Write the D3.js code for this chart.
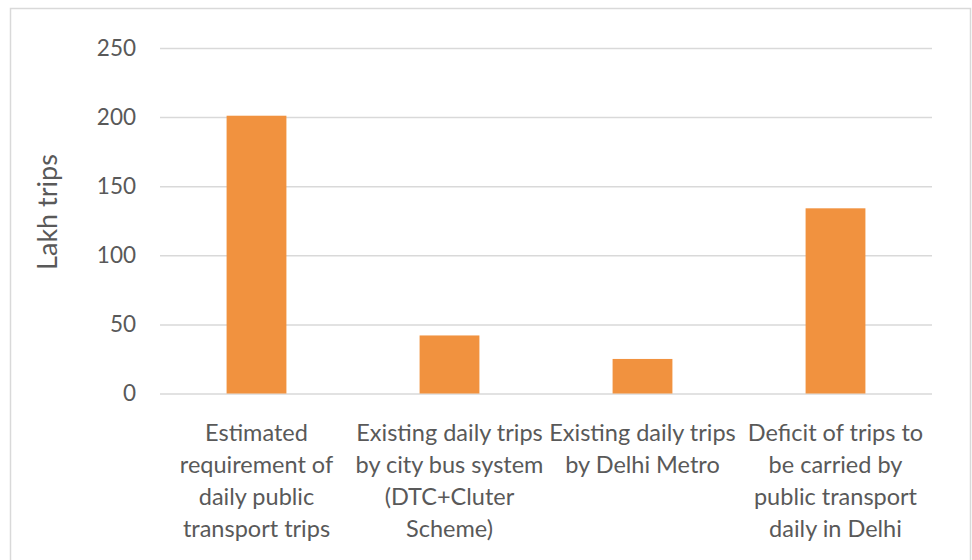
<!DOCTYPE html>
<html>
<head>
<meta charset="utf-8">
<script src="https://cdn.jsdelivr.net/npm/d3@7/dist/d3.min.js"></script>
<style>
  html, body { margin: 0; padding: 0; background: #fff; }
  svg { display: block; }
  text { font-family: Lato, "Open Sans", sans-serif; fill: #595959; }
</style>
</head>
<body>
<svg id="chart" width="972" height="560"></svg>
<script>
// Daily public transport trips in Delhi (lakh trips)
const categories = [
  ["Estimated", "requirement of", "daily public", "transport trips"],
  ["Existing daily trips", "by city bus system", "(DTC+Cluter", "Scheme)"],
  ["Existing daily trips", "by Delhi Metro"],
  ["Deficit of trips to", "be carried by", "public transport", "daily in Delhi"]
];
const values = [201, 42, 25, 134];
const yTicks = [0, 50, 100, 150, 200, 250];
const yTitle = "Lakh trips";

const W = 972, H = 560;
const margin = { left: 160, right: 40, top: 48, bottom: 166.5 };
const svg = d3.select("#chart");

// outer chart frame
svg.append("rect")
  .attr("x", 10.5).attr("y", 8.5)
  .attr("width", 960).attr("height", 560)
  .attr("fill", "#fff")
  .attr("stroke", "#d9d9d9").attr("stroke-width", 1.5);

const x = d3.scaleBand()
  .domain(d3.range(categories.length))
  .range([margin.left, W - margin.right])
  .paddingInner(0.69).paddingOuter(0.345);

const y = d3.scaleLinear()
  .domain([0, 250])
  .range([H - margin.bottom, margin.top]);

// horizontal gridlines
const yAxis = d3.axisLeft(y).tickValues(yTicks)
  .tickSize(-(W - margin.right - margin.left))
  .tickPadding(24);

const gy = svg.append("g")
  .attr("transform", `translate(${margin.left},0)`)
  .call(yAxis);
gy.select(".domain").remove();
gy.selectAll(".tick line").attr("stroke", "#d9d9d9").attr("stroke-width", 1.5);
gy.selectAll(".tick text")
  .attr("font-size", 22.5)
  .attr("fill", "#595959")
  .style("font-family", "Lato, 'Open Sans', sans-serif");

// bars
svg.append("g").selectAll("rect")
  .data(values)
  .join("rect")
  .attr("x", (d, i) => x(i))
  .attr("width", x.bandwidth())
  .attr("y", d => y(d))
  .attr("height", d => y(0) - y(d))
  .attr("fill", "#f1923f");

// category labels (multi-line)
const cx = svg.append("g");
categories.forEach((lines, i) => {
  const t = cx.append("text")
    .attr("text-anchor", "middle")
    .attr("font-size", 23.5)
    .attr("x", x(i) + x.bandwidth() / 2)
    .attr("y", 441);
  lines.forEach((ln, j) => {
    t.append("tspan")
      .attr("x", x(i) + x.bandwidth() / 2)
      .attr("dy", j === 0 ? 0 : 32)
      .text(ln);
  });
});

// y-axis title
svg.append("text")
  .attr("transform", `translate(57,212) rotate(-90)`)
  .attr("text-anchor", "middle")
  .attr("font-size", 27)
  .text(yTitle);
</script>
</body>
</html>
